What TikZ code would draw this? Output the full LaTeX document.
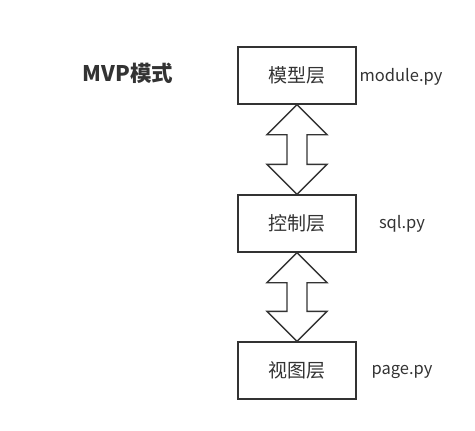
\documentclass[tikz,border=0pt]{standalone}
\usepackage{fontspec}
\setmainfont{Noto Sans CJK SC}
\usepackage{tikz}
\usetikzlibrary{calc}
\definecolor{mvpline}{HTML}{333333}
\definecolor{mvptext}{HTML}{333333}

\begin{document}
\begin{tikzpicture}[x=1pt, y=1pt,
  layer/.style={draw=mvpline, line width=1.4pt, fill=white, minimum width=118pt, minimum height=57pt, inner sep=0pt, font=\fontsize{19}{22}\selectfont, text=mvptext},
  fname/.style={font=\fontsize{16.5}{20}\selectfont, text=mvptext, inner sep=0pt},
  dblarrow/.style={draw=mvpline, line width=1.4pt, fill=white, line join=miter}
]
\useasboundingbox (0,0) rectangle (475,-431);
\node[font=\fontsize{21.5}{24}\selectfont\bfseries, text=mvptext] (title) at (128,-73) {MVP模式};
\node[layer] (model) at (297,-75.5) {模型层};
\node[layer] (ctrl) at (297,-223.5) {控制层};
\node[layer] (view) at (297,-370.5) {视图层};
\node[fname] (mfile) at (401,-77) {module.py};
\node[fname] (cfile) at (402,-224) {sql.py};
\node[fname] (vfile) at (402,-372) {page.py};
\foreach \a/\b in {model/ctrl, ctrl/view}
  \draw[dblarrow] (\a.south) -- ++(30,-30) -- ++(-20,0) -- ($(\b.north)+(10,30)$) -- ++(20,0) -- (\b.north)
    -- ++(-30,30) -- ++(20,0) -- ($(\a.south)+(-10,-30)$) -- ++(-20,0) -- cycle;
\end{tikzpicture}
\end{document}
